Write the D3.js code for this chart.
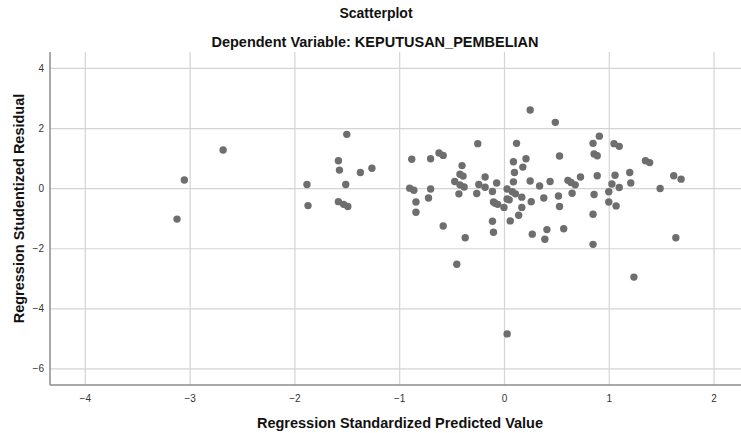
<!DOCTYPE html>
<html lang="en">
<head>
  <meta charset="UTF-8">
  <title>Scatterplot</title>
  <script src="https://d3js.org/d3.v7.min.js"></script>
  <style>
    body { margin: 0; background: #fff; font-family: Arial, "Liberation Sans", sans-serif; }
    .grid line { stroke: #d4d4d4; stroke-width: 1.2px; }
    .grid path { display: none; }
    .tick text { fill: #333; font-size: 10px; }
    .title { font-weight: bold; font-size: 14px; fill: #111; }
    .subtitle { font-weight: bold; font-size: 14.5px; fill: #111; }
    .axis-title { font-weight: bold; font-size: 14.5px; fill: #111; }
  </style>
</head>
<body>
<svg width="741" height="433"></svg>
<script>
  // Regression Standardized Predicted Value
  const predicted = [
    -2.68, -3.05, -3.12, -1.50, -1.58, -1.57, -1.37, -1.26, -1.88, -1.51,
    -1.87, -1.58, -1.53, -1.49, -0.88, -0.70, -0.62, -0.58, -0.25, -0.40,
    -0.42, -0.39, -0.47, -0.42, -0.38, -0.43, -0.90, -0.86, -0.70, -0.84,
    -0.84, -0.72, -0.58, -0.37, -0.45, -0.26, -0.24, -0.18, -0.18, -0.07,
    -0.11, -0.10, -0.085, -0.06, 0.00, 0.03, 0.03, -0.11, -0.10,
    0.25, 0.49, 0.12, 0.53, 0.09, 0.21, 0.18, 0.10, 0.09, 0.25,
    0.34, 0.44, 0.08, 0.11, 0.05, 0.17, 0.26, 0.17, 0.14, 0.06,
    0.38, 0.27, 0.41, 0.39, 0.52, 0.53, 0.57, 0.61, 0.64, 0.68,
    0.73, 0.65, 0.91, 0.85, 0.86, 0.89, 0.89, 0.86, 0.85, 0.85,
    1.05, 1.10, 1.06, 1.03, 1.10, 1.00, 1.00, 1.07, 1.20, 1.21,
    1.24, 1.35, 1.39, 1.49, 1.62, 1.69, 1.64, 0.03
  ];
  // Regression Studentized Residual
  const residual = [
    1.27, 0.27, -1.03, 1.79, 0.91, 0.60, 0.52, 0.66, 0.12, 0.12,
    -0.58, -0.45, -0.54, -0.61, 0.96, 0.98, 1.17, 1.09, 1.48, 0.75,
    0.46, 0.40, 0.22, 0.11, 0.04, -0.19, 0.00, -0.07, -0.03, -0.46,
    -0.80, -0.33, -1.26, -1.65, -2.53, -0.18, 0.12, 0.37, 0.03, 0.17,
    -0.11, -0.46, -0.50, -0.54, -0.64, -0.03, -0.36, -1.10, -1.47,
    2.60, 2.19, 1.49, 1.07, 0.88, 0.98, 0.70, 0.52, 0.21, 0.24,
    0.07, 0.22, -0.12, -0.19, -0.39, -0.30, -0.45, -0.64, -0.90, -1.09,
    -0.33, -1.53, -1.38, -1.70, -0.26, -0.61, -1.35, 0.26, 0.19, 0.11,
    0.37, -0.17, 1.73, 1.49, 1.14, 1.08, 0.41, -0.21, -0.87, -1.87,
    1.48, 1.39, 0.43, 0.14, 0.02, -0.12, -0.46, -0.59, 0.52, 0.17,
    -2.96, 0.91, 0.85, -0.01, 0.41, 0.30, -1.65, -4.85
  ];
  const xTicks = [-4, -3, -2, -1, 0, 1, 2];
  const yTicks = [-6, -4, -2, 0, 2, 4];

  const points = predicted.map((v, i) => ({x: v, y: residual[i]}));

  const plot = {left: 50, right: 745, top: 52, bottom: 385};

  const svg = d3.select("svg");

  const x = d3.scaleLinear().domain([-4.332, 2.3]).range([plot.left, plot.right]);
  const y = d3.scaleLinear().domain([-6.55, 4.53]).range([plot.bottom, plot.top]);

  // gridlines + tick labels
  svg.append("g")
    .attr("class", "grid")
    .attr("transform", `translate(0,${plot.bottom})`)
    .call(d3.axisBottom(x).tickValues(xTicks).tickFormat(d3.format("d"))
      .tickSize(-(plot.bottom - plot.top)).tickPadding(10));

  svg.append("g")
    .attr("class", "grid")
    .attr("transform", `translate(${plot.left},0)`)
    .call(d3.axisLeft(y).tickValues(yTicks).tickFormat(d3.format("d"))
      .tickSize(-(plot.right - plot.left)).tickPadding(6));

  // axis lines
  svg.append("line")
    .attr("x1", plot.left).attr("x2", plot.left)
    .attr("y1", plot.top).attr("y2", plot.bottom)
    .attr("stroke", "#8c8c8c").attr("stroke-width", 1.5);
  svg.append("line")
    .attr("x1", plot.left).attr("x2", plot.right)
    .attr("y1", plot.bottom).attr("y2", plot.bottom)
    .attr("stroke", "#8c8c8c").attr("stroke-width", 1.5);

  // points
  svg.append("g").selectAll("circle")
    .data(points)
    .join("circle")
    .attr("cx", d => x(d.x))
    .attr("cy", d => y(d.y))
    .attr("r", 3.7)
    .attr("fill", "#6e6e6e");

  // titles
  svg.append("text").attr("class", "title")
    .attr("x", 376).attr("y", 18).attr("text-anchor", "middle")
    .text("Scatterplot");
  svg.append("text").attr("class", "subtitle")
    .attr("x", 375).attr("y", 47).attr("text-anchor", "middle")
    .text("Dependent Variable: KEPUTUSAN_PEMBELIAN");

  svg.append("text").attr("class", "axis-title")
    .attr("x", 400).attr("y", 428).attr("text-anchor", "middle")
    .text("Regression Standardized Predicted Value");

  svg.append("text").attr("class", "axis-title")
    .attr("transform", "rotate(-90)")
    .attr("x", -(plot.top + plot.bottom) / 2 + 10).attr("y", 24)
    .attr("text-anchor", "middle")
    .text("Regression Studentized Residual");
</script>
</body>
</html>
